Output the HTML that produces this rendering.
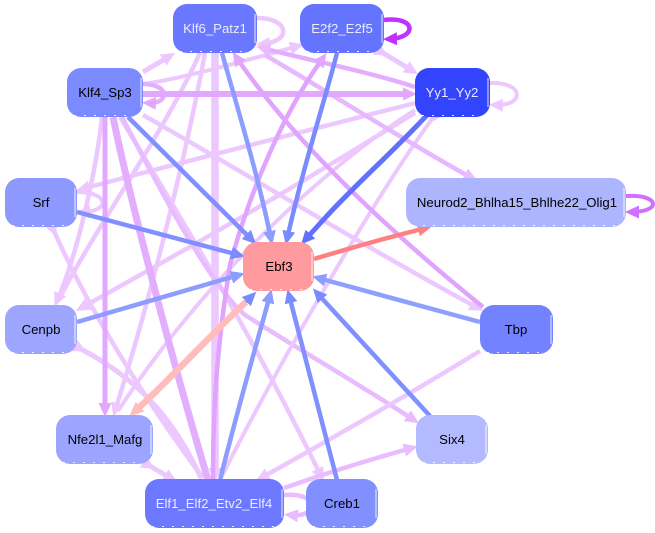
<!DOCTYPE html>
<html><head><meta charset="utf-8"><style>
html,body{margin:0;padding:0;background:#fff}
svg{display:block}
text{font-family:"Liberation Sans",sans-serif;font-size:13.2px;text-anchor:middle}
path{fill:none}
.n{stroke:none}
.w{stroke:#fff;stroke-width:1;fill:none;opacity:.85}
.d{stroke:#fff;stroke-width:1;fill:none;stroke-dasharray:2 8;opacity:.85}
</style></head><body>
<svg width="655" height="533" viewBox="0 0 655 533" xmlns="http://www.w3.org/2000/svg">
<defs>
<marker id="p" markerUnits="userSpaceOnUse" markerWidth="16" markerHeight="14" refX="8" refY="7" orient="auto"><polygon points="0,0.500 14,7 0,13.500" fill="#ecc8ff"/></marker>
<marker id="l" markerUnits="userSpaceOnUse" markerWidth="16" markerHeight="14" refX="8" refY="7" orient="auto"><polygon points="0,0.500 14,7 0,13.500" fill="#e8bcff"/></marker>
<marker id="m" markerUnits="userSpaceOnUse" markerWidth="16" markerHeight="14" refX="8" refY="7" orient="auto"><polygon points="0,0.500 14,7 0,13.500" fill="#e2a8ff"/></marker>
<marker id="v" markerUnits="userSpaceOnUse" markerWidth="16" markerHeight="14" refX="8" refY="7" orient="auto"><polygon points="0,0.500 14,7 0,13.500" fill="#c030ff"/></marker>
<marker id="o" markerUnits="userSpaceOnUse" markerWidth="16" markerHeight="14" refX="8" refY="7" orient="auto"><polygon points="0,0.500 14,7 0,13.500" fill="#d070ff"/></marker>
<marker id="a" markerUnits="userSpaceOnUse" markerWidth="16" markerHeight="14" refX="8" refY="7" orient="auto"><polygon points="0,0.500 14,7 0,13.500" fill="#8c9cff"/></marker>
<marker id="b" markerUnits="userSpaceOnUse" markerWidth="16" markerHeight="14" refX="8" refY="7" orient="auto"><polygon points="0,0.500 14,7 0,13.500" fill="#7a8aff"/></marker>
<marker id="c" markerUnits="userSpaceOnUse" markerWidth="16" markerHeight="14" refX="8" refY="7" orient="auto"><polygon points="0,0.500 14,7 0,13.500" fill="#6070ff"/></marker>
<marker id="r" markerUnits="userSpaceOnUse" markerWidth="16" markerHeight="14" refX="8" refY="7" orient="auto"><polygon points="0,0.500 14,7 0,13.500" fill="#ff8080"/></marker>
<marker id="s" markerUnits="userSpaceOnUse" markerWidth="16" markerHeight="14" refX="8" refY="7" orient="auto"><polygon points="0,0.500 14,7 0,13.500" fill="#ffbcbc"/></marker>
</defs>

<!-- pale edges -->
<g stroke="#ecc8ff" stroke-width="4.500">
<path d="M143,72 L170,56" stroke-width="5" marker-end="url(#p)"/>
<path d="M143,84 C185,78 240,62 298,46" stroke-width="4" marker-end="url(#p)"/>
<path d="M383,53 L413,71" stroke-width="5" marker-end="url(#p)" marker-start="url(#p)"/>
<path d="M102,117 C95,180 75,260 57,301" marker-end="url(#p)"/>
<path d="M200,53 C160,140 100,220 58,301"/>
<path d="M205,53 C185,160 150,300 115,411" marker-end="url(#p)"/>
<path d="M415,103 C330,125 190,160 82,189" marker-end="url(#p)"/>
<path d="M415,113 C330,165 240,220 81,308" marker-end="url(#p)"/>
<path d="M415,110 C320,170 200,285 118,411" stroke-width="4"/>
<path d="M215,53 L215,476" stroke-width="7.500" marker-end="url(#p)"/>
<path d="M143,115 C240,170 370,250 478,308" marker-end="url(#p)"/>
<path d="M120,117 C170,200 250,330 321,476" marker-end="url(#p)"/>
<path d="M122,117 C160,190 210,285 245,315 C300,350 360,385 414,420" stroke="#e8bcff" marker-end="url(#l)"/>
<path d="M54,231 C80,290 130,380 203,478" marker-start="url(#p)"/>
<path d="M432,119 C380,190 280,360 220,480" stroke-width="4" marker-start="url(#p)"/>
<path d="M81,349 C130,375 170,410 201,478" stroke-width="5" marker-start="url(#p)"/>
<path d="M150,466 L172,479" stroke-width="5" marker-start="url(#p)" marker-end="url(#p)"/>
<path d="M480,351 C400,400 320,445 261,478" marker-end="url(#p)"/>
<path d="M284,488 C330,472 375,458 412,448" stroke="#e8bcff" marker-end="url(#l)"/>
<path d="M257,18 C290,18 292,42 262,44" stroke-width="4.500" marker-end="url(#p)"/>
<path d="M490,83 C525,82 525,106 495,105" stroke-width="4" marker-end="url(#p)"/>
<path d="M77,192 C110,192 110,212 82,212" stroke-width="4" marker-end="url(#p)"/>
<path d="M284,495 C320,492 320,518 290,515" stroke="#e8bcff" stroke-width="4.500" marker-end="url(#l)"/>
</g>
<!-- medium edges -->
<g stroke="#e4aeff">
<path d="M415,87 C370,72 300,58 262,48" stroke-width="4.500" marker-end="url(#l)"/>
<path d="M265,55 C330,93 420,150 472,178" stroke-width="4.500" stroke="#e8b8ff" marker-end="url(#l)"/>
<path d="M113,117 C130,200 175,370 208,480" stroke-width="7"/>
<path d="M143,84 C170,84 170,104 148,103" stroke-width="4.500" marker-end="url(#m)"/>
<path d="M105,117 L105,411" stroke="#e2a8ff" stroke-width="5" marker-end="url(#m)"/>
<path d="M143,94 L411,94" stroke="#e2a8ff" stroke-width="6" marker-end="url(#m)"/>
<path d="M483,307 C400,240 300,150 236,57" stroke="#e0a4ff" stroke-width="4.500" marker-end="url(#m)"/>
<path d="M213,480 C213,400 218,340 230,265 C250,190 285,110 323,58" stroke="#e0a4ff" stroke-width="4.500" marker-end="url(#m)"/>
</g>
<path d="M384,20 C416,16 418,38 389,39" stroke="#c030ff" stroke-width="4.500" marker-end="url(#v)"/>
<path d="M626,196 C660,194 662,212 631,212" stroke="#d070ff" stroke-width="4" marker-end="url(#o)"/>

<!-- blue edges -->
<path d="M222,53 C238,110 258,175 271,239" stroke="#8c9cff" stroke-width="4.500" marker-end="url(#a)"/>
<path d="M337,53 C325,100 305,160 287,239" stroke="#7a8aff" stroke-width="4.500" marker-end="url(#b)"/>
<path d="M128,117 L252,240" stroke="#8090ff" stroke-width="4.500" marker-end="url(#b)"/>
<path d="M77,212 L239,255" stroke="#8090ff" stroke-width="4.500" marker-end="url(#b)"/>
<path d="M77,322 L239,275" stroke="#8c9cff" stroke-width="4.500" marker-end="url(#a)"/>
<path d="M427,115 C400,145 355,185 325,218 L305,240" stroke="#6070ff" stroke-width="5" marker-end="url(#c)"/>
<path d="M480,322 L318,278" stroke="#8f9fff" stroke-width="4.500" marker-end="url(#a)"/>
<path d="M430,416 L317,293" stroke="#8090ff" stroke-width="4.500" marker-end="url(#b)"/>
<path d="M337,480 L289,295" stroke="#8090ff" stroke-width="4.500" marker-end="url(#b)"/>
<path d="M220,480 C240,400 255,350 270,295" stroke="#8c9cff" stroke-width="4.500" marker-end="url(#a)"/>
<path d="M136,410 L252,296" stroke="#8090ff" stroke-width="3" marker-end="url(#b)"/>
<path d="M246,302 C215,330 165,385 134,412" stroke="#ffbcbc" stroke-width="6.500" marker-end="url(#s)"/>
<path d="M314,259 C350,248 390,237 426,228" stroke="#ff8080" stroke-width="4.500" marker-end="url(#r)"/>

<!-- nodes -->
<g class="n">
<rect x="173" y="4" width="84" height="49" rx="14" fill="#6a77ff"/>
<rect x="300" y="4" width="84" height="49" rx="14" fill="#6474ff"/>
<rect x="67" y="68" width="76" height="49" rx="14" fill="#7b8aff"/>
<rect x="415" y="68" width="75" height="49" rx="14" fill="#3344ff"/>
<rect x="5" y="178" width="72" height="49" rx="14" fill="#8e99ff"/>
<rect x="406" y="178" width="220" height="49" rx="14" fill="#adb5ff"/>
<rect x="243" y="242" width="71" height="49" rx="14" fill="#ff9a9e"/>
<rect x="5" y="305" width="72" height="49" rx="14" fill="#9ca6ff"/>
<rect x="480" y="305" width="73" height="49" rx="14" fill="#7383ff"/>
<rect x="56" y="415" width="97" height="49" rx="14" fill="#9ba5ff"/>
<rect x="416" y="415" width="72" height="49" rx="14" fill="#b3baff"/>
<rect x="145" y="479" width="139" height="49" rx="14" fill="#6b78ff"/>
<rect x="306" y="479" width="72" height="49" rx="14" fill="#8290ff"/>
</g>
<!-- rims -->
<path class="w" d="M255,14 V43"/><path class="d" d="M180,51.500 H245"/>
<path class="w" d="M382,14 V43"/><path class="d" d="M307,51.500 H372"/>
<path class="w" d="M141,78 V107"/><path class="d" d="M74,115.500 H133"/>
<path class="w" d="M488,78 V107"/><path class="d" d="M422,115.500 H480"/>
<path class="w" d="M75,188 V217"/><path class="d" d="M12,225.500 H67"/>
<path class="w" d="M624,188 V217"/><path class="d" d="M413,225.500 H616"/>
<path class="w" d="M312,252 V281"/><path class="d" d="M250,289.500 H304"/>
<path class="w" d="M75,315 V344"/><path class="d" d="M12,352.500 H67"/>
<path class="w" d="M551,315 V344"/><path class="d" d="M487,352.500 H543"/>
<path class="w" d="M151,425 V454"/><path class="d" d="M63,462.500 H143"/>
<path class="w" d="M486,425 V454"/><path class="d" d="M423,462.500 H478"/>
<path class="w" d="M282,489 V518"/><path class="d" d="M152,526.500 H274"/>
<path class="w" d="M376,489 V518"/><path class="d" d="M313,526.500 H368"/>

<text x="215" y="33" fill="#ececff">Klf6_Patz1</text>
<text x="342" y="33" fill="#ececff">E2f2_E2f5</text>
<text x="105" y="97" fill="#000">Klf4_Sp3</text>
<text x="452" y="97" fill="#ececff">Yy1_Yy2</text>
<text x="41" y="207" fill="#000">Srf</text>
<text x="517" y="207" fill="#000">Neurod2_Bhlha15_Bhlhe22_Olig1</text>
<text x="279" y="271" fill="#000">Ebf3</text>
<text x="41" y="334" fill="#000">Cenpb</text>
<text x="516" y="334" fill="#000">Tbp</text>
<text x="105" y="444" fill="#000">Nfe2l1_Mafg</text>
<text x="452" y="444" fill="#000">Six4</text>
<text x="214" y="508" fill="#ececff">Elf1_Elf2_Etv2_Elf4</text>
<text x="342" y="508" fill="#000">Creb1</text>
</svg>
</body></html>
